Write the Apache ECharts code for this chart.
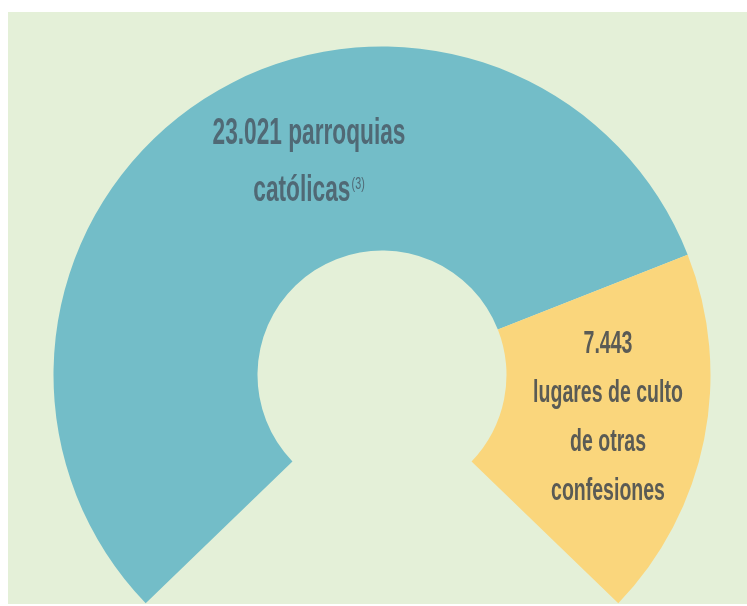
<!DOCTYPE html>
<html>
<head>
<meta charset="utf-8">
<script src="https://cdn.jsdelivr.net/npm/echarts@6/dist/echarts.min.js"></script>
<style>
  html, body { margin: 0; padding: 0; background: #ffffff; }
  #chart { width: 747px; height: 606px; }
</style>
</head>
<body>
<div id="chart"></div>
<script>
// Places of worship: Catholic parishes vs. other confessions
const categories = ['parroquias católicas', 'lugares de culto de otras confesiones'];
const values = [23021, 7443];
// Text shown with each number, one entry per line
const captionLines = [
  ['parroquias', 'católicas'],
  ['lugares de culto', 'de otras', 'confesiones']
];
const footnotes = ['(3)', ''];

// Spanish thousands separator: 23021 -> 23.021
function fmt(v) {
  return String(v).replace(/\B(?=(\d{3})+(?!\d))/g, '.');
}

const chart = echarts.init(document.getElementById('chart'), null, { renderer: 'canvas' });

const FONT = '"Liberation Sans", Arial, sans-serif';
const SQUEEZE = 0.63; // condensed lettering

// Caption blocks, drawn as horizontally condensed text
const blueText = '{n|' + fmt(values[0]) + ' ' + captionLines[0][0] + '}\n{n|' +
  captionLines[0][1] + '}{sup|' + footnotes[0] + '}';
const yellowText = ['{n|' + fmt(values[1]) + '}']
  .concat(captionLines[1].map(s => '{n|' + s + '}')).join('\n');

const option = {
  backgroundColor: '#ffffff',
  animation: false,
  graphic: [
    {
      type: 'rect',
      z: -1,
      silent: true,
      shape: { x: 8, y: 12, width: 739, height: 592 },
      style: { fill: '#e4f0d8' }
    },
    {
      type: 'text',
      z: 10,
      silent: true,
      x: 309,
      y: 163,
      scaleX: SQUEEZE,
      style: {
        text: blueText,
        align: 'center',
        verticalAlign: 'middle',
        rich: {
          n: { fontFamily: FONT, fontSize: 36, fontWeight: 'bold', fill: '#506975', lineHeight: 57 },
          sup: { fontFamily: FONT, fontSize: 17, fill: '#506975', lineHeight: 57, padding: [0, 0, 14, 2] }
        }
      }
    },
    {
      type: 'text',
      z: 10,
      silent: true,
      x: 608,
      y: 418,
      scaleX: SQUEEZE,
      style: {
        text: yellowText,
        align: 'center',
        verticalAlign: 'middle',
        rich: {
          n: { fontFamily: FONT, fontSize: 31, fontWeight: 'bold', fill: '#5a5b55', lineHeight: 49 }
        }
      }
    }
  ],
  series: [{
    type: 'pie',
    center: [382, 375],
    radius: [124.5, 328.5],
    startAngle: 224,
    endAngle: -44,
    clockwise: true,
    silent: true,
    emphasis: { disabled: true },
    label: { show: false },
    labelLine: { show: false },
    data: categories.map((name, i) => ({
      name: name,
      value: values[i],
      itemStyle: { color: i === 0 ? '#73bdc8' : '#fad67c' }
    }))
  }]
};

chart.setOption(option);
</script>
</body>
</html>
